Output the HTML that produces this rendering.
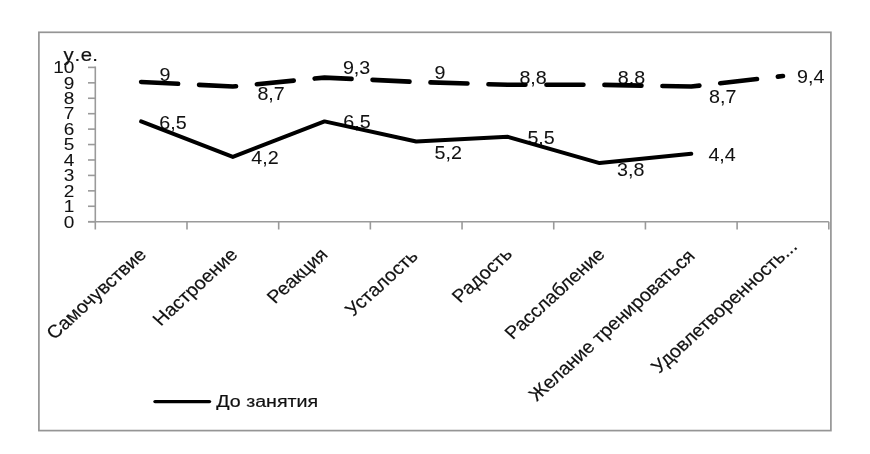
<!DOCTYPE html><html><head><meta charset="utf-8"><style>html,body{margin:0;padding:0;background:#fff;width:870px;height:454px;overflow:hidden}svg{display:block;will-change:transform}text{font-family:"Liberation Sans",sans-serif;fill:#111;stroke:#111;stroke-width:0.2px}.d{stroke-width:0.05px}</style></head><body><svg width="870" height="454" viewBox="0 0 870 454"><rect x="0" y="0" width="870" height="454" fill="#fff"/><rect x="38.9" y="32.3" width="792" height="398.3" fill="none" stroke="#959595" stroke-width="1.7"/><line x1="95.3" y1="66.5" x2="95.3" y2="229.5" stroke="#9a9a9a" stroke-width="1.6"/><line x1="88" y1="221.70" x2="95.3" y2="221.70" stroke="#9a9a9a" stroke-width="1.6"/><line x1="88" y1="206.27" x2="95.3" y2="206.27" stroke="#9a9a9a" stroke-width="1.6"/><line x1="88" y1="190.84" x2="95.3" y2="190.84" stroke="#9a9a9a" stroke-width="1.6"/><line x1="88" y1="175.41" x2="95.3" y2="175.41" stroke="#9a9a9a" stroke-width="1.6"/><line x1="88" y1="159.98" x2="95.3" y2="159.98" stroke="#9a9a9a" stroke-width="1.6"/><line x1="88" y1="144.55" x2="95.3" y2="144.55" stroke="#9a9a9a" stroke-width="1.6"/><line x1="88" y1="129.12" x2="95.3" y2="129.12" stroke="#9a9a9a" stroke-width="1.6"/><line x1="88" y1="113.69" x2="95.3" y2="113.69" stroke="#9a9a9a" stroke-width="1.6"/><line x1="88" y1="98.26" x2="95.3" y2="98.26" stroke="#9a9a9a" stroke-width="1.6"/><line x1="88" y1="82.83" x2="95.3" y2="82.83" stroke="#9a9a9a" stroke-width="1.6"/><line x1="88" y1="67.40" x2="95.3" y2="67.40" stroke="#9a9a9a" stroke-width="1.6"/><line x1="88" y1="221.70" x2="828.8" y2="221.70" stroke="#9a9a9a" stroke-width="1.6"/><line x1="186.99" y1="221.7" x2="186.99" y2="229.5" stroke="#9a9a9a" stroke-width="1.6"/><line x1="278.68" y1="221.7" x2="278.68" y2="229.5" stroke="#9a9a9a" stroke-width="1.6"/><line x1="370.36" y1="221.7" x2="370.36" y2="229.5" stroke="#9a9a9a" stroke-width="1.6"/><line x1="462.05" y1="221.7" x2="462.05" y2="229.5" stroke="#9a9a9a" stroke-width="1.6"/><line x1="553.74" y1="221.7" x2="553.74" y2="229.5" stroke="#9a9a9a" stroke-width="1.6"/><line x1="645.42" y1="221.7" x2="645.42" y2="229.5" stroke="#9a9a9a" stroke-width="1.6"/><line x1="737.11" y1="221.7" x2="737.11" y2="229.5" stroke="#9a9a9a" stroke-width="1.6"/><line x1="828.80" y1="221.7" x2="828.80" y2="229.5" stroke="#9a9a9a" stroke-width="1.6"/><text font-size="17.3" text-anchor="end" class="d" transform="translate(74.30 227.50) scale(1.1 1)">0</text><text font-size="17.3" text-anchor="end" class="d" transform="translate(74.30 212.07) scale(1.1 1)">1</text><text font-size="17.3" text-anchor="end" class="d" transform="translate(74.30 196.64) scale(1.1 1)">2</text><text font-size="17.3" text-anchor="end" class="d" transform="translate(74.30 181.21) scale(1.1 1)">3</text><text font-size="17.3" text-anchor="end" class="d" transform="translate(74.30 165.78) scale(1.1 1)">4</text><text font-size="17.3" text-anchor="end" class="d" transform="translate(74.30 150.35) scale(1.1 1)">5</text><text font-size="17.3" text-anchor="end" class="d" transform="translate(74.30 134.92) scale(1.1 1)">6</text><text font-size="17.3" text-anchor="end" class="d" transform="translate(74.30 119.49) scale(1.1 1)">7</text><text font-size="17.3" text-anchor="end" class="d" transform="translate(74.30 104.06) scale(1.1 1)">8</text><text font-size="17.3" text-anchor="end" class="d" transform="translate(74.30 88.63) scale(1.1 1)">9</text><text font-size="17.3" text-anchor="end" class="d" transform="translate(74.30 73.20) scale(1.1 1)">10</text><text font-size="18.5" transform="translate(63.60 60.50) scale(1.1 1)">у</text><text font-size="18.5" transform="translate(74.60 60.50) scale(1.1 1)">.</text><text font-size="18.5" transform="translate(80.80 60.50) scale(1.1 1)">е</text><text font-size="18.5" transform="translate(92.30 60.50) scale(1.1 1)">.</text><text font-size="17.6" class="d" transform="translate(159.40 81.00) scale(1.12 1)">9</text><text font-size="17.6" class="d" transform="translate(257.40 99.90) scale(1.12 1)">8,7</text><text font-size="17.6" class="d" transform="translate(342.90 74.40) scale(1.12 1)">9,3</text><text font-size="17.6" class="d" transform="translate(434.60 78.90) scale(1.12 1)">9</text><text font-size="17.6" class="d" transform="translate(519.40 83.90) scale(1.12 1)">8,8</text><text font-size="17.6" class="d" transform="translate(617.70 84.30) scale(1.12 1)">8,8</text><text font-size="17.6" class="d" transform="translate(709.10 102.50) scale(1.12 1)">8,7</text><text font-size="17.6" class="d" transform="translate(797.00 83.20) scale(1.12 1)">9,4</text><text font-size="17.6" class="d" transform="translate(159.30 128.70) scale(1.12 1)">6,5</text><text font-size="17.6" class="d" transform="translate(251.20 164.40) scale(1.12 1)">4,2</text><text font-size="17.6" class="d" transform="translate(343.20 128.00) scale(1.12 1)">6,5</text><text font-size="17.6" class="d" transform="translate(434.60 158.70) scale(1.12 1)">5,2</text><text font-size="17.6" class="d" transform="translate(527.40 143.70) scale(1.12 1)">5,5</text><text font-size="17.6" class="d" transform="translate(617.00 176.10) scale(1.12 1)">3,8</text><text font-size="17.6" class="d" transform="translate(708.40 160.60) scale(1.12 1)">4,4</text><polyline points="141.14,81.93 232.83,86.56 324.52,77.60 416.21,81.93 507.89,84.82 599.58,84.82 691.27,86.56 782.96,76.06" fill="none" stroke="#000" stroke-width="4.6" stroke-dasharray="37 21" stroke-linecap="round" stroke-linejoin="round"/><polyline points="141.14,121.40 232.83,156.89 324.52,121.40 416.21,141.46 507.89,136.83 599.58,163.07 691.27,153.81" fill="none" stroke="#000" stroke-width="4" stroke-linecap="round" stroke-linejoin="round"/><text font-size="18" text-anchor="end" transform="translate(147.60 255.60) scale(1.1 1) rotate(-45)">Самочувствие</text><text font-size="18" text-anchor="end" transform="translate(238.80 255.80) scale(1.1 1) rotate(-45)">Настроение</text><text font-size="18" text-anchor="end" transform="translate(328.80 255.60) scale(1.1 1) rotate(-45)">Реакция</text><text font-size="18" text-anchor="end" transform="translate(419.10 257.30) scale(1.1 1) rotate(-45)">Усталость</text><text font-size="18" text-anchor="end" transform="translate(513.40 255.20) scale(1.1 1) rotate(-45)">Радость</text><text font-size="18" text-anchor="end" transform="translate(606.00 255.40) scale(1.1 1) rotate(-45)">Расслабление</text><text font-size="18" text-anchor="end" transform="translate(696.00 257.10) scale(1.1 1) rotate(-45)">Желание тренироваться</text><text font-size="18" text-anchor="end" transform="translate(798.30 247.60) scale(1.1 1) rotate(-45)">Удовлетворенность...</text><line x1="155" y1="401.6" x2="209.5" y2="401.6" stroke="#000" stroke-width="3.4" stroke-linecap="round"/><text font-size="17.3" transform="translate(216.30 407.40) scale(1.135 1)">До занятия</text></svg></body></html>
